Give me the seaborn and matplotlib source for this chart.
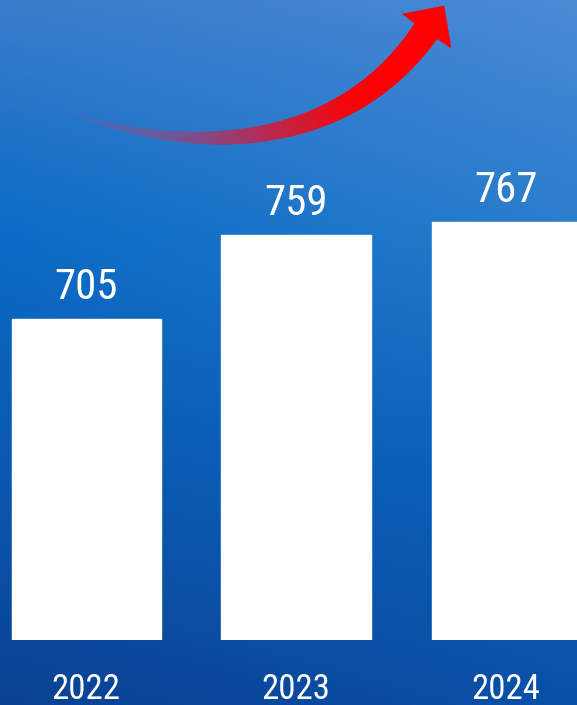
import matplotlib
matplotlib.use("Agg")
import matplotlib.pyplot as plt
import numpy as np
import pandas as pd
import seaborn as sns
from matplotlib import font_manager
from matplotlib.collections import PolyCollection
from matplotlib.patches import Polygon

years = ["2022", "2023", "2024"]
values = [705, 759, 767]

sns.set_theme(style="white")
plt.rcParams["font.family"] = ["DejaVu Sans"]


def pick_narrow_font():
    # look for a condensed / narrow face among the installed fonts
    prefs = ["Roboto Condensed", "Open Sans Condensed", "Liberation Sans Narrow",
             "Noto Sans Condensed", "DejaVu Sans"]
    fonts = [f for f in font_manager.fontManager.ttflist
             if f.style == "normal" and f.weight in (400, "normal", "regular", 500, "medium")]
    for name in prefs:
        for f in fonts:
            if f.name == name and ("Condensed" in f.name or "Narrow" in f.name
                                   or f.stretch in ("condensed", "semi-condensed")):
                return f.fname
    for f in fonts:
        if "Condensed" in f.fname or "Narrow" in f.fname:
            return f.fname
    return None


narrow = pick_narrow_font()
print("font:", narrow)


def fprop(size):
    if narrow:
        return font_manager.FontProperties(fname=narrow, size=size)
    return font_manager.FontProperties(family="DejaVu Sans", stretch="condensed", size=size)


W, H = 577, 705
fig = plt.figure(figsize=(W / 100, H / 100), dpi=100)

# background gradient
bg = fig.add_axes([0, 0, 1, 1], zorder=0)
stops = [0, 1 / 3, 2 / 3, 1]
left = np.array([[58, 125, 203], [10, 107, 197], [10, 88, 176], [10, 66, 146]]) / 255
right = np.array([[74, 138, 213], [42, 125, 205], [10, 98, 188], [10, 80, 168]]) / 255
yy = np.linspace(0, 1, H)
xx = np.linspace(0, 1, W)[None, :, None]
col_l = np.stack([np.interp(yy, stops, left[:, c]) for c in range(3)], axis=1)[:, None, :]
col_r = np.stack([np.interp(yy, stops, right[:, c]) for c in range(3)], axis=1)[:, None, :]
img = (1 - xx) * col_l + xx * col_r
bg.imshow(img, aspect="auto", extent=[0, 1, 0, 1])
bg.axis("off")

# bars
df = pd.DataFrame({"year": years, "value": values})
ax = fig.add_axes([0, 65 / H, 1, 640 / H], zorder=1)
ax.patch.set_alpha(0)
sns.barplot(data=df, x="year", y="value", color="white", saturation=1,
            width=149 / 210, ax=ax)
ax.set_xlim(-86 / 210, 491 / 210)
ax.set_ylim(500, 909)
sns.despine(ax=ax, left=True, bottom=True)
ax.set_yticks([])
ax.set_xlabel("")
ax.set_ylabel("")
ax.tick_params(axis="x", colors="white", length=0, pad=24)
for lbl in ax.get_xticklabels():
    lbl.set_fontproperties(fprop(25))

for i, v in enumerate(values):
    ax.annotate(str(v), (i, v), xytext=(0, 20), textcoords="offset pixels",
                ha="center", va="baseline", color="white",
                fontproperties=fprop(31), annotation_clip=False)

# red arrow
arr = fig.add_axes([0, 0, 1, 1], zorder=3)
arr.set_xlim(0, W)
arr.set_ylim(H, 0)
arr.axis("off")

P = np.array([[68, 112], [170, 150], [335, 163], [426, 31]], dtype=float)
t = np.linspace(0, 1, 200)[:, None]
pts = ((1 - t) ** 3 * P[0] + 3 * (1 - t) ** 2 * t * P[1]
       + 3 * (1 - t) * t ** 2 * P[2] + t ** 3 * P[3])
d = (3 * (1 - t) ** 2 * (P[1] - P[0]) + 6 * (1 - t) * t * (P[2] - P[1])
     + 3 * t ** 2 * (P[3] - P[2]))
d = d / np.linalg.norm(d, axis=1, keepdims=True)
nrm = np.stack([-d[:, 1], d[:, 0]], axis=1)
w = 13.5 * t[:, 0] ** 0.85
lo = pts + nrm * w[:, None]
hi = pts - nrm * w[:, None]

cstops = [0, 0.3, 0.55, 0.78, 1]
cvals = np.array([[0.35, 0.42, 0.72, 0.25], [0.47, 0.33, 0.58, 0.85],
                  [0.75, 0.15, 0.30, 1.0], [1.0, 0.0, 0.0, 1.0], [1.0, 0.0, 0.0, 1.0]])
quads, fcs = [], []
for i in range(len(t) - 1):
    quads.append([lo[i], lo[i + 1], hi[i + 1], hi[i]])
    tm = (t[i, 0] + t[i + 1, 0]) / 2
    fcs.append([np.interp(tm, cstops, cvals[:, c]) for c in range(4)])
arr.add_collection(PolyCollection(quads, facecolors=fcs, edgecolors=fcs, linewidths=0.4))
head = [(402.6, 14), (444, 6), (451, 48), (437.5, 39), (414.7, 23.3)]
arr.add_patch(Polygon(head, closed=True, facecolor="#ff0000", edgecolor="#ff0000", linewidth=0.4))

fig.savefig("out.png", dpi=100)
